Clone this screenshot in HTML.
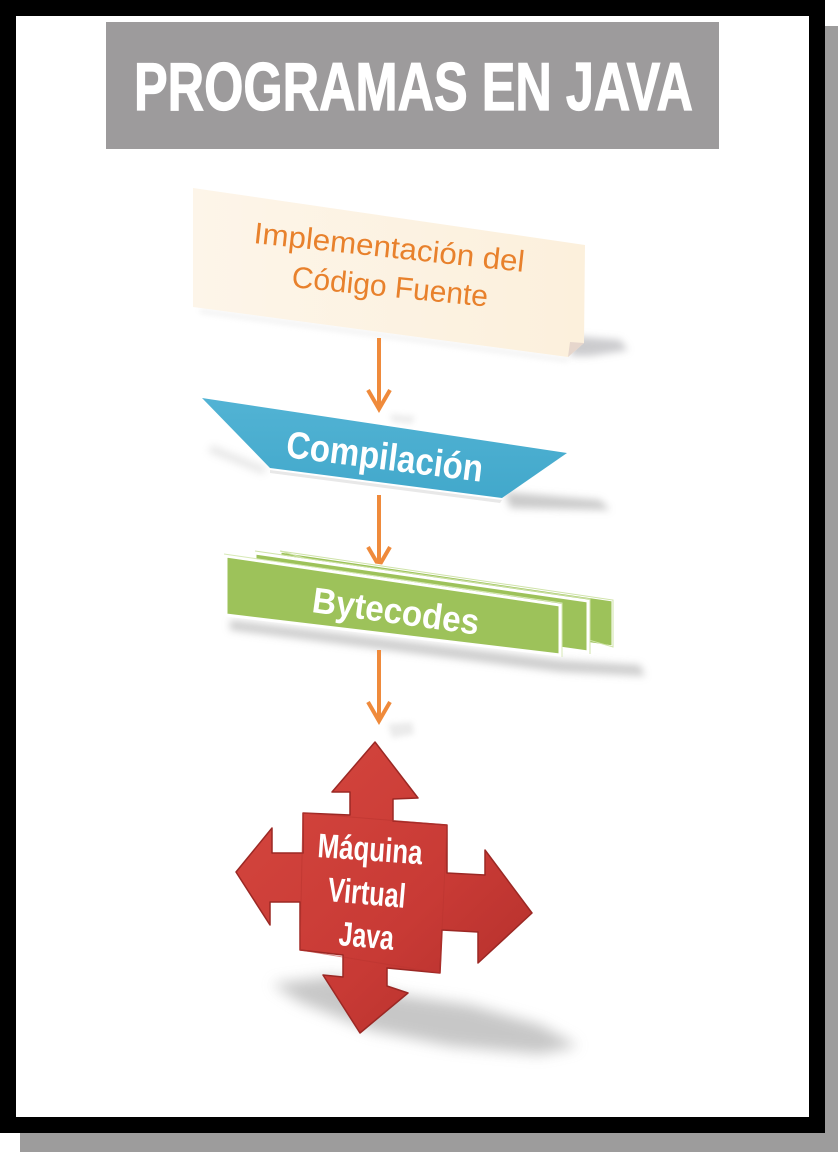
<!DOCTYPE html>
<html>
<head>
<meta charset="utf-8">
<style>
html,body{margin:0;padding:0;background:#fff;}
body{width:838px;height:1152px;overflow:hidden;}
svg{display:block;}
</style>
</head>
<body>
<svg width="838" height="1152" viewBox="0 0 838 1152" xmlns="http://www.w3.org/2000/svg">
  <defs>
    <filter id="blur6" x="-50%" y="-50%" width="200%" height="200%"><feGaussianBlur stdDeviation="7"/></filter>
    <filter id="blur4" x="-50%" y="-50%" width="200%" height="200%"><feGaussianBlur stdDeviation="4"/></filter>
    <filter id="blur2" x="-50%" y="-50%" width="200%" height="200%"><feGaussianBlur stdDeviation="3"/></filter>
    <linearGradient id="note" x1="0" y1="0" x2="1" y2="0">
      <stop offset="0" stop-color="#fdf5e9"/>
      <stop offset="1" stop-color="#fcf0dc"/>
    </linearGradient>
    <linearGradient id="blue" x1="0" y1="0" x2="0" y2="1">
      <stop offset="0" stop-color="#52b3d4"/>
      <stop offset="1" stop-color="#42a8cb"/>
    </linearGradient>
    <linearGradient id="red" x1="0" y1="0" x2="1" y2="1">
      <stop offset="0" stop-color="#d6473f"/>
      <stop offset="0.6" stop-color="#c83a35"/>
      <stop offset="1" stop-color="#b02e2a"/>
    </linearGradient>
  </defs>

  <!-- frame shadow -->
  <rect x="825" y="26" width="13" height="1126" fill="#9d9c9c"/>
  <rect x="20" y="1133" width="818" height="19" fill="#9d9c9c"/>
  <!-- black frame -->
  <rect x="0" y="0" width="825" height="1133" fill="#000"/>
  <rect x="16" y="16" width="793" height="1101" fill="#fff"/>

  <!-- title -->
  <rect x="106" y="22" width="613" height="127" fill="#9d9b9c"/>
  <text x="134" y="110" font-family="Liberation Sans, sans-serif" font-weight="bold" font-size="68" fill="#fff" stroke="#fff" stroke-width="1.2" textLength="559" lengthAdjust="spacingAndGlyphs">PROGRAMAS EN JAVA</text>

  <!-- note shadow -->
  <polygon points="572,336 620,340 628,350 590,356 570,356" fill="#a9a9ad" opacity="0.6" filter="url(#blur4)"/>
  <polygon points="200,309 568,358 568,362 200,313" fill="#d8d8d8" opacity="0.4" filter="url(#blur2)"/>
  <!-- note -->
  <polygon points="193,188 585,245 584,343 568,357 193,307" fill="url(#note)"/>
  <polygon points="570,342 584,343 568,357" fill="#e6d6cc"/>
  <text transform="translate(253,243) rotate(6.1)" font-family="Liberation Sans, sans-serif" font-size="30" fill="#e8812c" textLength="272" lengthAdjust="spacingAndGlyphs">Implementación del</text>
  <text transform="translate(291,287) rotate(5.7)" font-family="Liberation Sans, sans-serif" font-size="30" fill="#e8812c" textLength="197" lengthAdjust="spacingAndGlyphs">Código Fuente</text>

  <!-- arrow 1 -->
  <polygon points="390,414 415,416 412,424 392,422" fill="#ccc" opacity="0.35" filter="url(#blur2)"/>
  <line x1="379" y1="338" x2="379" y2="408" stroke="#ef8a3b" stroke-width="4"/>
  <polyline points="368,390 379,409 390,390" fill="none" stroke="#ef8a3b" stroke-width="4"/>

  <!-- compilacion shadow -->
  <polygon points="505,492 600,500 610,510 510,508" fill="#a8a8a8" opacity="0.6" filter="url(#blur4)"/>
  <polygon points="212,445 268,468 262,474 208,452" fill="#c4c4c4" opacity="0.4" filter="url(#blur4)"/>
  <polygon points="270,470 502,500 500,503 270,473" fill="#e8e8e8"/>
  <!-- compilacion -->
  <polygon points="202,398 567,453 502,498 270,468" fill="url(#blue)"/>
  <text transform="translate(285,457) rotate(7.2)" font-family="Liberation Sans, sans-serif" font-weight="bold" font-size="38" fill="#fff" textLength="198" lengthAdjust="spacingAndGlyphs">Compilación</text>

  <!-- arrow 2 -->
  <line x1="379" y1="495" x2="379" y2="565" stroke="#ef8a3b" stroke-width="4"/>
  <polyline points="368,547 379,566 390,547" fill="none" stroke="#ef8a3b" stroke-width="4"/>

  <!-- bytecodes shadow -->
  <polygon points="230,620 560,660 640,665 645,676 560,672 230,630" fill="#a5a5a5" opacity="0.55" filter="url(#blur4)"/>
  <!-- bytecodes back sheets -->
  <polygon points="280,551 613,600 613,647 280,600" fill="#9dc25a" stroke="#fff" stroke-width="3"/>
  <polygon points="280,551 613,600 613,647" fill="none" stroke="#cfe3a8" stroke-width="1"/>
  <polygon points="255,553 588,601 588,652 255,605" fill="#9dc25a" stroke="#fff" stroke-width="3"/>
  <polyline points="255,551 590,599 590,654" fill="none" stroke="#cfe3a8" stroke-width="1"/>
  <!-- front sheet -->
  <polygon points="226,556 560,605 560,655 226,615" fill="#9dc25a" stroke="#fff" stroke-width="3"/>
  <polyline points="224,554 562,603 562,657" fill="none" stroke="#d7e9b6" stroke-width="1"/>
  <text transform="translate(311,612) rotate(7.8)" font-family="Liberation Sans, sans-serif" font-weight="bold" font-size="36" fill="#fff" textLength="168" lengthAdjust="spacingAndGlyphs">Bytecodes</text>

  <!-- arrow 3 -->
  <polygon points="388,724 412,722 414,734 392,738" fill="#ccc" opacity="0.4" filter="url(#blur2)"/>
  <line x1="379" y1="650" x2="379" y2="720" stroke="#ef8a3b" stroke-width="4"/>
  <polyline points="368,702 379,721 390,702" fill="none" stroke="#ef8a3b" stroke-width="4"/>

  <!-- cross shadow -->
  <polygon points="272,984 335,976 400,995 470,1005 540,1025 578,1046 540,1054 450,1046 370,1030 300,1002" fill="#9a9a9a" opacity="0.55" filter="url(#blur6)"/>

  <!-- red cross -->
  <polygon points="375,742 418,798 393,799 393,821 447,825 447,873 485,875 485,850 532,913 478,963 478,932 442,930 440,973 387,968 387,986 408,993 360,1033 323,975 343,977 343,955 300,950 300,902 270,902 270,925 236,872 272,828 272,853 303,853 303,813 350,815 350,792 332,792"
    fill="url(#red)" stroke="#9b2824" stroke-width="1.5" stroke-linejoin="round"/>
  <polygon points="303,813 447,825 440,973 300,950" fill="none" stroke="#bb3530" stroke-width="1" opacity="0.6"/>
  <text transform="translate(317,857) rotate(4)" font-family="Liberation Sans, sans-serif" font-weight="bold" font-size="34" fill="#fff" textLength="105" lengthAdjust="spacingAndGlyphs">Máquina</text>
  <text transform="translate(327,901) rotate(5)" font-family="Liberation Sans, sans-serif" font-weight="bold" font-size="34" fill="#fff" textLength="78" lengthAdjust="spacingAndGlyphs">Virtual</text>
  <text transform="translate(338,945) rotate(5)" font-family="Liberation Sans, sans-serif" font-weight="bold" font-size="34" fill="#fff" textLength="55" lengthAdjust="spacingAndGlyphs">Java</text>
</svg>
</body>
</html>
